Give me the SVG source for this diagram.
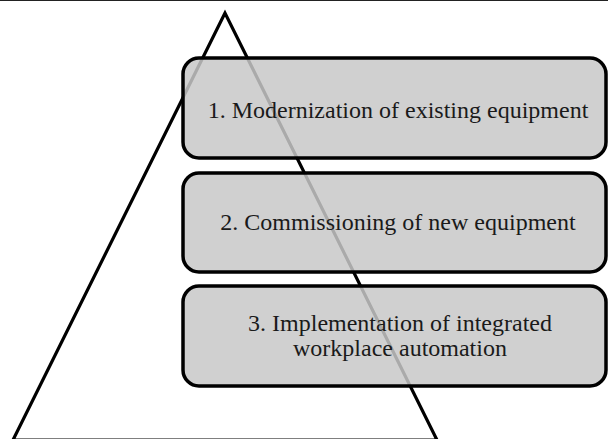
<svg xmlns="http://www.w3.org/2000/svg" width="608" height="439" viewBox="0 0 608 439">
  <style>
    .frame { stroke: #222; stroke-width: 1; fill: none; }
    .tri { fill: none; stroke: #000; stroke-width: 3.2; stroke-linejoin: miter; }
    .box { fill: #c8c8c8; fill-opacity: 0.85; stroke: #000; stroke-width: 3.5; }
    .lbl { font-family: "Liberation Serif", "Times New Roman", serif; font-size: 24px; fill: #1a1a1a; text-anchor: middle; }
  </style>
  <rect x="0" y="0" width="608" height="439" fill="#fff"/>
  <line class="frame" x1="0" y1="0.5" x2="608" y2="0.5"/>

  <!-- pyramid behind the levels -->
  <g id="pyramid">
    <polygon class="tri" points="225,13 13,440 437,440"/>
  </g>

  <g id="level1">
    <rect class="box" x="183" y="58" width="423" height="100" rx="16" ry="16"/>
    <text class="lbl" x="398" y="118">1. Modernization of existing equipment</text>
  </g>

  <g id="level2">
    <rect class="box" x="183" y="173" width="423" height="99" rx="16" ry="16"/>
    <text class="lbl" x="398" y="230">2. Commissioning of new equipment</text>
  </g>

  <g id="level3">
    <rect class="box" x="183" y="286" width="423" height="100" rx="16" ry="16"/>
    <text class="lbl" x="400" y="331">3. Implementation of integrated</text>
    <text class="lbl" x="400" y="356">workplace automation</text>
  </g>

  <g id="connectors"/>
</svg>
